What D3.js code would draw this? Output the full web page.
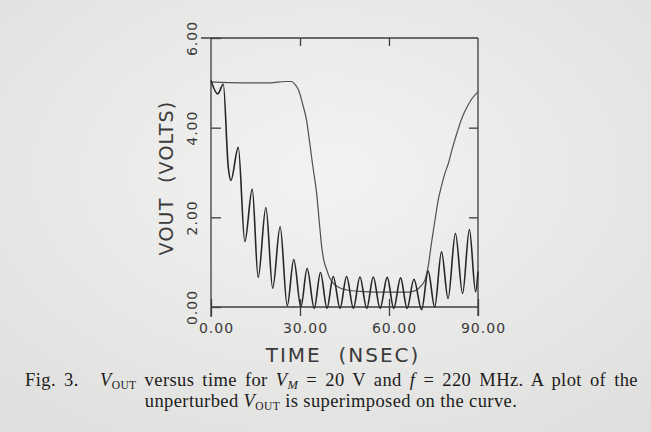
<!DOCTYPE html>
<html>
<head>
<meta charset="utf-8">
<script src="https://cdn.jsdelivr.net/npm/d3@7"></script>
<style>
body { margin: 0; background: #e8e8e6; }
svg { display: block; }
.plot text { font-family: "DejaVu Sans", sans-serif; fill: #3a3a3a; }
.caption text { font-family: "Liberation Serif", "Times New Roman", serif; fill: #1c1c1c; }
</style>
</head>
<body>
<svg id="chart" width="651" height="432"></svg>
<script>
// tick values
const timeTicks = [0, 30, 60, 90];
const voltTicks = [0, 2, 4, 6];

// unperturbed Vout, [time ns, volts]
const vOutUnperturbed = [
	[0, 5.02], [10, 5.0], [20, 5.0], [25, 5.03], [27, 5.03], [28.5, 4.95], [29.5, 4.84],
	[31, 4.5], [32.2, 4.17], [33.3, 3.65], [34.3, 3.15], [35.6, 2.54], [36.5, 1.9],
	[37.3, 1.35], [38, 1.05], [39, 0.83], [40, 0.65], [41.2, 0.53], [43, 0.44],
	[45.7, 0.38], [50, 0.35], [60, 0.33], [66, 0.33], [68, 0.35], [69.3, 0.38],
	[70.8, 0.47], [72.1, 0.6], [73.2, 0.9], [74.3, 1.42], [75.5, 1.94], [76.6, 2.39],
	[77.7, 2.7], [78.9, 2.99], [80, 3.2], [81.2, 3.5], [82.9, 3.88], [84.5, 4.2],
	[86.3, 4.46], [88, 4.65], [90, 4.8]
];

// Vout with the 220 MHz interference, peaks and troughs
const vOutPerturbed = [
	[0, 5.05], [2.25, 4.75], [4.15, 4.97], [5.8, 3.13], [6.7, 2.82], [9.2, 3.56],
	[11.4, 1.46], [13.9, 2.63], [15.9, 0.66], [18.5, 2.22], [20.8, 0.42], [23.3, 1.79],
	[25.7, 0.03], [27.9, 1.06], [30.3, 0.0], [32.4, 0.86], [34.8, -0.03], [36.9, 0.77],
	[39.1, -0.03], [41.2, 0.68], [43.5, -0.03], [45.7, 0.68], [48.0, -0.03], [50.2, 0.67],
	[52.5, -0.03], [54.7, 0.67], [57.0, -0.03], [59.4, 0.66], [61.6, -0.03], [63.9, 0.65],
	[66.1, -0.03], [68.4, 0.62], [71.0, -0.06], [73.2, 0.8], [75.4, 0.0], [77.7, 1.23],
	[79.9, 0.19], [82.4, 1.64], [84.8, 0.3], [87.1, 1.73], [89.2, 0.34], [90, 0.79]
];

const svg = d3.select("#chart");

// scanned paper
const defs = svg.append("defs");
const grad = defs.append("radialGradient").attr("id", "paper")
	.attr("cx", "50%").attr("cy", "40%").attr("r", "75%");
grad.append("stop").attr("offset", "0%").attr("stop-color", "#f3f3f1");
grad.append("stop").attr("offset", "100%").attr("stop-color", "#dfdfdd");
svg.append("rect").attr("width", 651).attr("height", 432).attr("fill", "url(#paper)");

const x = d3.scaleLinear().domain([0, 90]).range([211, 478]);
const y = d3.scaleLinear().domain([0, 6]).range([307, 38]);

const plot = svg.append("g").attr("class", "plot");
const axisColor = "#3d3d3d";

// bottom axis, ticks cross the line
const xAxis = plot.append("g")
	.attr("transform", `translate(0,${y(0)})`)
	.call(d3.axisBottom(x).tickValues(timeTicks).tickSize(9).tickFormat(d3.format(".2f")));
xAxis.select(".domain").attr("d", `M${x(0)},0H${x(90)}`);
xAxis.selectAll(".tick line").attr("y1", -8);
xAxis.selectAll(".tick text")
	.attr("y", 26).attr("dy", 0).attr("dx", 5)
	.style("font-size", "14px").style("letter-spacing", "1px");

// left axis, ticks cross the line, labels turned
const yAxis = plot.append("g")
	.attr("transform", `translate(${x(0)},0)`)
	.call(d3.axisLeft(y).tickValues(voltTicks).tickSize(10).tickFormat(d3.format(".2f")));
yAxis.select(".domain").attr("d", `M0,${y(0) + 10}V${y(6)}`);
yAxis.selectAll(".tick line").attr("x2", 10);
yAxis.selectAll(".tick text")
	.attr("x", 0).attr("dy", 0)
	.attr("transform", "translate(-14,0) rotate(-90)")
	.attr("text-anchor", "middle")
	.style("font-size", "14px").style("letter-spacing", "1px");

// top frame with inward ticks
const topAxis = plot.append("g")
	.attr("transform", `translate(0,${y(6)})`)
	.call(d3.axisBottom(x).tickValues([30, 60]).tickSize(8).tickFormat(""));
topAxis.select(".domain").attr("d", `M${x(0) - 10},0H${x(90)}`);

// right frame with inward ticks
const rightAxis = plot.append("g")
	.attr("transform", `translate(${x(90)},0)`)
	.call(d3.axisLeft(y).tickValues([2, 4]).tickSize(9).tickFormat(""));
rightAxis.select(".domain").attr("d", `M0,${y(6)}V${y(0) + 9}`);

plot.selectAll(".domain, .tick line")
	.attr("stroke", axisColor).attr("stroke-width", 1.3);

const line = d3.line()
	.x(d => x(d[0]))
	.y(d => y(d[1]))
	.curve(d3.curveMonotoneX);

plot.append("path")
	.datum(vOutUnperturbed)
	.attr("d", line)
	.attr("fill", "none")
	.attr("stroke", "#505050")
	.attr("stroke-width", 1.2);

plot.append("path")
	.datum(vOutPerturbed)
	.attr("d", line)
	.attr("fill", "none")
	.attr("stroke", "#262626")
	.attr("stroke-width", 1.6);

// axis titles
plot.append("text")
	.attr("x", 343).attr("y", 362)
	.attr("text-anchor", "middle")
	.style("font-size", "20px").style("letter-spacing", "2px")
	.attr("xml:space", "preserve")
	.text("TIME  (NSEC)");

plot.append("text")
	.attr("transform", "translate(173,178) rotate(-90)")
	.attr("text-anchor", "middle")
	.style("font-size", "19px").style("letter-spacing", "1.2px")
	.attr("xml:space", "preserve")
	.text("VOUT  (VOLTS)");

// figure caption
const caption = svg.append("g").attr("class", "caption")
	.style("font-size", "18.5px").style("letter-spacing", "0.4px");
const l1 = caption.append("text").attr("x", 25).attr("y", 386);
l1.append("tspan").text("Fig. 3.");
l1.append("tspan").attr("x", 100).style("font-style", "italic").text("V");
l1.append("tspan").attr("dy", 3).style("font-size", "11.5px").text("OUT");
l1.append("tspan").attr("dy", -3).text(" versus time for ");
l1.append("tspan").style("font-style", "italic").text("V");
l1.append("tspan").attr("dy", 3).style("font-size", "12.5px").style("font-style", "italic").text("M");
l1.append("tspan").attr("dy", -3).text(" = 20 V and ");
l1.append("tspan").style("font-style", "italic").text("f");
l1.append("tspan").text(" = 220 MHz. A plot of the");

// justify the first line to the column edge
const lineEnd = 638;
const box = l1.node().getBBox();
const spaces = (l1.text().slice(7).match(/ /g) || []).length;
l1.style("word-spacing", ((lineEnd - (box.x + box.width)) / spaces) + "px");

const l2 = caption.append("text").attr("x", 331).attr("y", 407).attr("text-anchor", "middle");
l2.append("tspan").text("unperturbed ");
l2.append("tspan").style("font-style", "italic").text("V");
l2.append("tspan").attr("dy", 3).style("font-size", "11.5px").text("OUT");
l2.append("tspan").attr("dy", -3).text(" is superimposed on the curve.");
</script>
</body>
</html>
